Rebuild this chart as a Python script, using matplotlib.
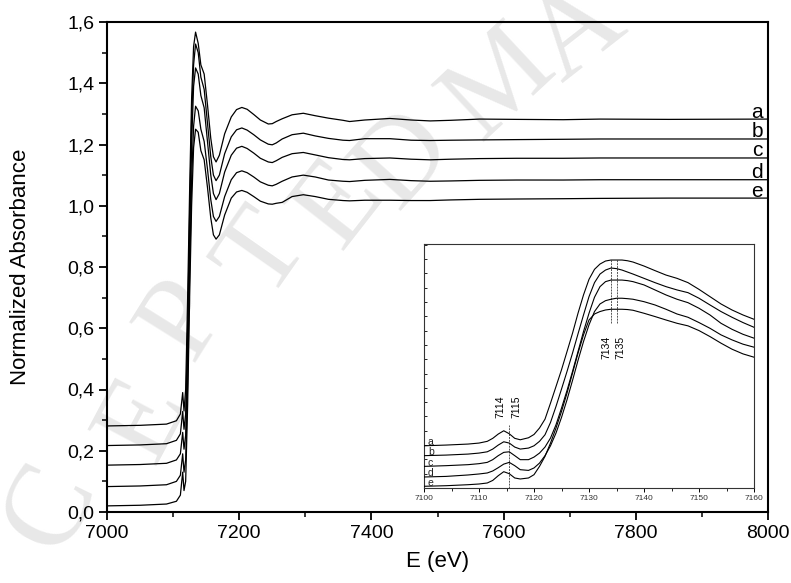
import matplotlib
matplotlib.use("Agg")
import matplotlib.pyplot as plt
from matplotlib.ticker import MultipleLocator, FixedLocator, FixedFormatter

plt.rcParams['font.family'] = ['Liberation Sans', 'DejaVu Sans']

# ---- full-range XANES/EXAFS spectra (energy in eV, normalized absorbance) ----
energy = [7000, 7050, 7090, 7105, 7111, 7114.5, 7116.5, 7119, 7122, 7125, 7128, 7131,
          7134, 7138, 7142, 7147, 7152, 7157, 7161, 7165, 7170, 7178, 7188, 7196,
          7204, 7212, 7222, 7232, 7244, 7250, 7256, 7265, 7280, 7297, 7315, 7335,
          7357, 7367, 7390, 7428, 7460, 7489, 7520, 7564, 7620, 7690, 7746, 7850, 8000]

spec_a = [0.281, 0.283, 0.287, 0.298, 0.320, 0.390, 0.330, 0.400, 0.700, 1.050, 1.350, 1.520,
          1.567, 1.530, 1.460, 1.430, 1.330, 1.220, 1.160, 1.143, 1.165, 1.235, 1.290, 1.314,
          1.321, 1.315, 1.298, 1.280, 1.267, 1.268, 1.275, 1.284, 1.297, 1.302, 1.294, 1.286,
          1.279, 1.275, 1.280, 1.285, 1.280, 1.277, 1.279, 1.283, 1.282, 1.281, 1.283, 1.282, 1.283]
spec_b = [0.217, 0.219, 0.223, 0.234, 0.255, 0.328, 0.270, 0.320, 0.600, 0.970, 1.280, 1.460,
          1.528, 1.500, 1.420, 1.380, 1.270, 1.160, 1.100, 1.082, 1.100, 1.170, 1.225, 1.248,
          1.254, 1.247, 1.232, 1.215, 1.201, 1.199, 1.205, 1.218, 1.232, 1.237, 1.228, 1.220,
          1.214, 1.213, 1.219, 1.219, 1.214, 1.213, 1.214, 1.215, 1.216, 1.217, 1.218, 1.218, 1.218]
spec_c = [0.153, 0.155, 0.159, 0.170, 0.190, 0.260, 0.205, 0.250, 0.520, 0.880, 1.200, 1.390,
          1.450, 1.430, 1.360, 1.320, 1.210, 1.100, 1.040, 1.020, 1.040, 1.110, 1.165, 1.188,
          1.194, 1.187, 1.172, 1.155, 1.143, 1.141, 1.147, 1.158, 1.170, 1.174, 1.166, 1.157,
          1.151, 1.150, 1.154, 1.156, 1.152, 1.150, 1.152, 1.154, 1.155, 1.155, 1.156, 1.156, 1.156]
spec_d = [0.083, 0.085, 0.089, 0.100, 0.120, 0.190, 0.130, 0.170, 0.420, 0.780, 1.080, 1.260,
          1.325, 1.310, 1.250, 1.210, 1.120, 1.020, 0.965, 0.949, 0.965, 1.030, 1.085, 1.108,
          1.114, 1.108, 1.094, 1.078, 1.067, 1.065, 1.070, 1.080, 1.094, 1.100, 1.094, 1.084,
          1.080, 1.079, 1.083, 1.086, 1.082, 1.080, 1.081, 1.083, 1.084, 1.084, 1.085, 1.085, 1.085]
spec_e = [0.020, 0.022, 0.026, 0.035, 0.055, 0.130, 0.070, 0.100, 0.350, 0.700, 1.000, 1.190,
          1.250, 1.240, 1.180, 1.150, 1.060, 0.960, 0.905, 0.891, 0.905, 0.970, 1.025, 1.045,
          1.050, 1.044, 1.030, 1.015, 1.006, 1.005, 1.008, 1.011, 1.030, 1.036, 1.030, 1.021,
          1.017, 1.016, 1.018, 1.018, 1.017, 1.017, 1.019, 1.021, 1.022, 1.023, 1.024, 1.025, 1.025]

sample_names = ['a', 'b', 'c', 'd', 'e']

# ---- pre-edge / edge detail (7100-7160 eV) ----
energy_edge = [7100, 7104, 7108, 7110, 7111.5, 7112.5, 7113.5, 7114.5, 7115.5, 7116.5, 7117.5,
               7119, 7120, 7121, 7122, 7123, 7124, 7125, 7126, 7127, 7128, 7129, 7130, 7131,
               7132, 7133, 7134, 7135, 7136, 7137, 7138, 7140, 7142, 7144, 7146, 7148, 7150,
               7152, 7154, 7156, 7158, 7160]

edge_a = [0.295, 0.300, 0.307, 0.314, 0.326, 0.347, 0.377, 0.400, 0.379, 0.347, 0.337,
          0.351, 0.374, 0.419, 0.481, 0.593, 0.709, 0.826, 0.953, 1.081, 1.221, 1.349, 1.458, 1.528,
          1.565, 1.586, 1.593, 1.593, 1.593, 1.588, 1.579, 1.551, 1.519, 1.488, 1.465, 1.435, 1.388,
          1.337, 1.286, 1.244, 1.209, 1.179]
edge_b = [0.226, 0.230, 0.237, 0.244, 0.253, 0.272, 0.300, 0.323, 0.314, 0.286, 0.272,
          0.279, 0.295, 0.326, 0.372, 0.458, 0.570, 0.691, 0.814, 0.942, 1.077, 1.209, 1.337, 1.435,
          1.495, 1.523, 1.537, 1.533, 1.523, 1.509, 1.495, 1.465, 1.435, 1.407, 1.384, 1.365, 1.326,
          1.279, 1.233, 1.193, 1.156, 1.123]
edge_c = [0.151, 0.156, 0.163, 0.170, 0.179, 0.198, 0.226, 0.249, 0.253, 0.226, 0.198,
          0.198, 0.216, 0.244, 0.286, 0.349, 0.442, 0.558, 0.681, 0.814, 0.953, 1.093, 1.221, 1.333,
          1.407, 1.442, 1.453, 1.453, 1.453, 1.449, 1.442, 1.419, 1.384, 1.349, 1.319, 1.295, 1.256,
          1.209, 1.151, 1.109, 1.074, 1.047]
edge_d = [0.077, 0.081, 0.091, 0.098, 0.105, 0.119, 0.142, 0.167, 0.179, 0.156, 0.128,
          0.123, 0.140, 0.174, 0.226, 0.295, 0.384, 0.493, 0.616, 0.751, 0.891, 1.023, 1.140, 1.233,
          1.286, 1.309, 1.319, 1.326, 1.326, 1.323, 1.319, 1.302, 1.279, 1.249, 1.216, 1.193, 1.156,
          1.116, 1.070, 1.035, 1.005, 0.984]
edge_e = [0.012, 0.016, 0.023, 0.028, 0.035, 0.053, 0.086, 0.114, 0.100, 0.070, 0.063,
          0.070, 0.093, 0.151, 0.221, 0.314, 0.419, 0.535, 0.663, 0.802, 0.942, 1.070, 1.174, 1.216,
          1.233, 1.244, 1.249, 1.249, 1.249, 1.247, 1.242, 1.221, 1.198, 1.174, 1.151, 1.133, 1.100,
          1.058, 1.012, 0.970, 0.937, 0.914]

# marker energies for pre-edge and white-line positions
preedge_marks = [7114, 7115]
whiteline_marks = [7134, 7135]

# axis ticks
y_ticks = [0.0, 0.2, 0.4, 0.6, 0.8, 1.0, 1.2, 1.4, 1.6]
y_ticklabels = ['0,0', '0,2', '0,4', '0,6', '0,8', '1,0', '1,2', '1,4', '1,6']
x_ticks = [7000, 7200, 7400, 7600, 7800, 8000]
inset_x_ticks = [7100, 7110, 7120, 7130, 7140, 7150, 7160]

W, H = 791, 583
fig = plt.figure(figsize=(W / 100, H / 100), dpi=100)

# faint watermark lettering laid along a diagonal arc, behind everything
wm_letters = ['C', 'E', 'P', 'T', 'E', 'D', 'M', 'A']
wm_pos = [(52, 508), (145, 420), (185, 320), (265, 255), (340, 205), (405, 160), (500, 85), (578, 34)]
wm_rot = [64, 62, 58, 55, 52, 48, 43, 38]
for ch, (px, py), rot in zip(wm_letters, wm_pos, wm_rot):
    fig.text(px / W, 1 - py / H, ch, fontsize=86, family='Liberation Serif',
             color='#e8e8e8', rotation=rot, ha='center', va='center', zorder=-5)

ax = fig.add_axes([107 / W, 71 / H, 661 / W, 490 / H])
ax.set_zorder(2)
ax.patch.set_alpha(0)
for s in [spec_a, spec_b, spec_c, spec_d, spec_e]:
    ax.plot(energy, s, color='black', lw=0.9, zorder=3)

ends = [spec_a[-1], spec_b[-1], spec_c[-1], spec_d[-1], spec_e[-1]]
for name, v in zip(sample_names, ends):
    ax.text(7992, v + 0.005, name, fontsize=15, ha='right', va='baseline')

ax.set_xlim(7000, 8000)
ax.set_ylim(0, 1.6)
ax.xaxis.set_major_locator(FixedLocator(x_ticks))
ax.xaxis.set_minor_locator(MultipleLocator(100))
ax.yaxis.set_major_locator(FixedLocator(y_ticks))
ax.yaxis.set_major_formatter(FixedFormatter(y_ticklabels))
ax.yaxis.set_minor_locator(MultipleLocator(0.1))
ax.tick_params(which='major', direction='out', length=6, width=1.3, labelsize=14, pad=3)
ax.tick_params(which='minor', direction='out', length=3.5, width=1.1)
for sp in ax.spines.values():
    sp.set_linewidth(1.5)
ax.set_xlabel('E (eV)', fontsize=16, labelpad=7)
ax.set_ylabel('Normalized Absorbance', fontsize=16, labelpad=26)

# inset: edge region
ins = fig.add_axes([424 / W, (H - 488) / H, 330 / W, 244 / H])
ins.set_zorder(3)
ins.patch.set_alpha(0)
for s in [edge_a, edge_b, edge_c, edge_d, edge_e]:
    ins.plot(energy_edge, s, color='black', lw=0.8, zorder=3)
starts = [edge_a[0], edge_b[0], edge_c[0], edge_d[0], edge_e[0]]
for name, v in zip(sample_names, starts):
    ins.text(7100.7, v + 0.004, name, fontsize=7.5, ha='left', va='baseline', color='#222222')

ins.vlines(preedge_marks[1] + 0.5, 0, 0.44, colors='#555555', lw=0.7, linestyles=(0, (2, 1)))
ins.vlines(whiteline_marks, 1.15, 1.593, colors='#555555', lw=0.7, linestyles=(0, (2, 1)))
ins.text(preedge_marks[0] - 0.1, 0.49, str(preedge_marks[0]), rotation=90, fontsize=7.5,
         ha='center', va='bottom')
ins.text(preedge_marks[1] + 1.8, 0.49, str(preedge_marks[1]), rotation=90, fontsize=7.5,
         ha='center', va='bottom')
ins.text(whiteline_marks[0] - 0.8, 1.06, str(whiteline_marks[0]), rotation=90, fontsize=7.5,
         ha='center', va='top')
ins.text(whiteline_marks[1] + 0.8, 1.06, str(whiteline_marks[1]), rotation=90, fontsize=7.5,
         ha='center', va='top')

ins.set_xlim(7100, 7160)
ins.set_ylim(0, 1.705)
ins.xaxis.set_major_locator(FixedLocator(inset_x_ticks))
ins.xaxis.set_minor_locator(MultipleLocator(5))
ins.yaxis.set_major_locator(MultipleLocator(0.1))
ins.set_yticklabels([])
ins.tick_params(axis='x', which='major', direction='out', length=3, width=0.7,
                labelsize=6, pad=2, labelcolor='#333333')
ins.tick_params(axis='x', which='minor', direction='out', length=2, width=0.6)
ins.tick_params(axis='y', which='major', direction='in', length=2, width=0.6)
for sp in ins.spines.values():
    sp.set_linewidth(0.8)
    sp.set_color('#333333')

fig.savefig('out.png', dpi=100)
